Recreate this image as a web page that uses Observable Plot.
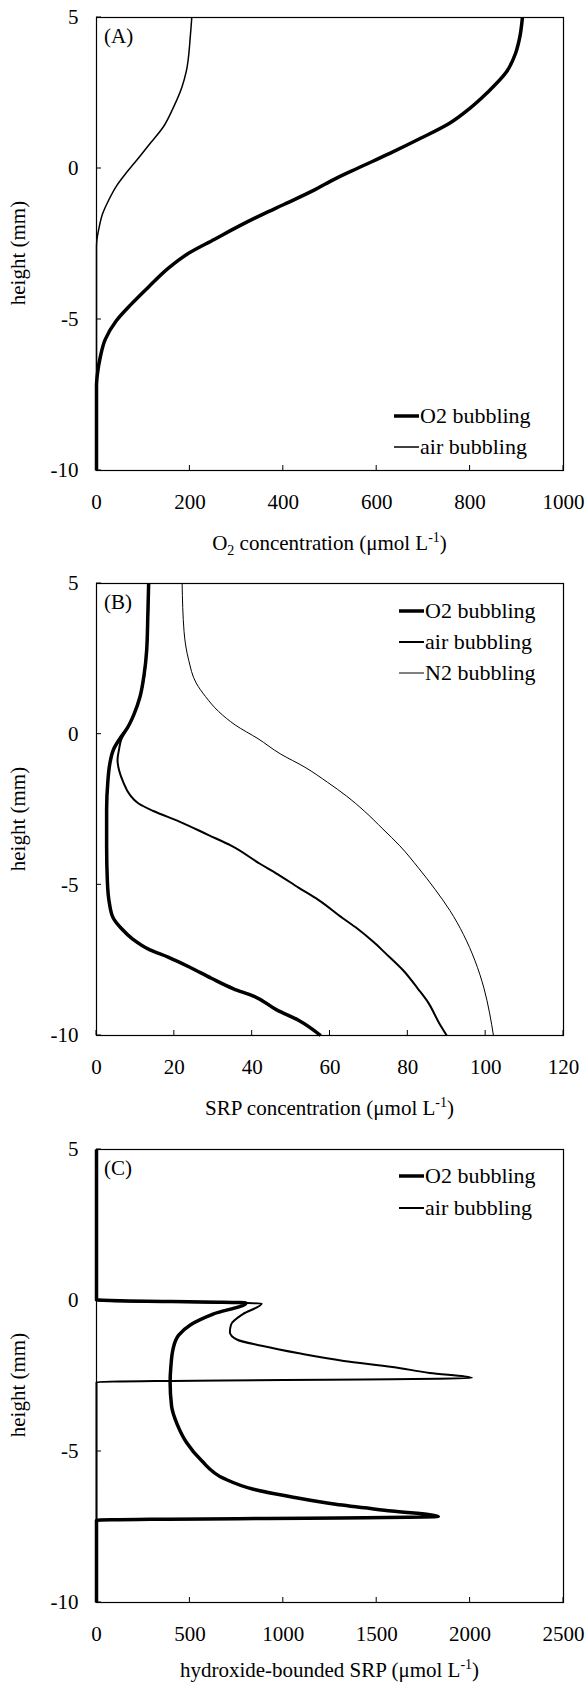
<!DOCTYPE html>
<html>
<head>
<meta charset="utf-8">
<script src="https://cdn.jsdelivr.net/npm/d3@7"></script>
<script src="https://cdn.jsdelivr.net/npm/@observablehq/plot@0.6"></script>
<style>
  body { margin: 0; background: #fff; }
  #charts svg { display: block; }
</style>
</head>
<body>
<div id="charts"></div>
<script>
// ---------- shared ----------
const yTicks = [5, 0, -5, -10];
const seriesNames = ["O2 bubbling", "air bubbling", "N2 bubbling"];

// ---------- Panel A: O2 concentration ----------
const xTicksA = [0, 200, 400, 600, 800, 1000];
const A_O2_height = [5, 4.4, 3.8, 3.2, 2.5, 2.0, 1.5, 1.0, 0.5, 0, -0.35, -0.7, -1.2, -1.5, -1.9, -2.35, -2.8, -3.3, -3.9, -4.5, -5.05, -5.65, -6.25, -6.8, -7.2, -10];
const A_O2_conc   = [912, 907, 897, 878, 836, 800, 756, 694, 628, 558, 510, 468, 400, 358, 306, 252, 198, 154, 113, 74, 42, 19, 8, 2, 0, 0];
const A_air_height = [5, 4.4, 3.2, 2.7, 2.0, 1.4, 0.85, 0.35, -0.1, -0.55, -1.05, -1.5, -2.0, -2.35, -2.6, -10];
const A_air_conc   = [204, 201, 192, 183, 164, 144, 116, 90, 66, 44, 26, 13, 5, 1, 0, 0];

// ---------- Panel B: SRP concentration ----------
const xTicksB = [0, 20, 40, 60, 80, 100, 120];
const B_O2_height = [5, 4, 2.8, 1.95, 1.25, 0.65, 0.2, -0.15, -0.5, -1.0, -1.6, -2.5, -3.7, -4.9, -5.6, -6.1, -6.45, -6.8, -7.15, -7.4, -7.75, -8.1, -8.45, -8.7, -9.15, -9.5, -10];
const B_O2_srp    = [13.4, 13.2, 12.9, 12.2, 11.2, 9.6, 7.9, 6.0, 4.4, 3.4, 2.9, 2.6, 2.6, 2.8, 3.3, 4.3, 6.4, 9.3, 13.6, 18.4, 24.2, 29.5, 35.2, 40.5, 46.3, 52.0, 57.6];
const B_air_height = [5, 2.8, 1.25, 0.65, 0.2, -0.2, -0.5, -0.85, -1.2, -1.6, -2.0, -2.3, -2.55, -2.9, -3.35, -3.7, -4.3, -4.65, -5.1, -5.5, -6.1, -6.45, -6.9, -7.25, -7.85, -8.45, -8.9, -9.6, -10];
const B_air_srp    = [13.4, 12.9, 11.2, 9.6, 7.9, 6.3, 5.8, 5.4, 5.8, 6.9, 8.5, 10.8, 14.6, 21.3, 28.8, 34.6, 42.0, 46.6, 52.0, 57.0, 63.2, 67.0, 71.2, 74.1, 78.9, 82.6, 85.2, 88.1, 90.0];
const B_N2_height = [5, 3.4, 2.45, 1.7, 1.25, 0.75, 0.3, -0.15, -0.65, -1.1, -1.6, -2.05, -2.55, -3.15, -3.7, -4.45, -5.15, -5.85, -6.65, -7.5, -8.45, -9.25, -10];
const B_N2_srp    = [22.0, 22.5, 23.7, 25.6, 28.0, 31.4, 35.7, 41.5, 47.2, 53.6, 59.4, 64.2, 68.8, 73.6, 77.9, 82.8, 87.0, 90.8, 94.3, 97.2, 99.6, 101.0, 102.0];

// ---------- Panel C: hydroxide-bounded SRP ----------
const xTicksC = [0, 500, 1000, 1500, 2000, 2500];
const C_O2_height = [5, 0.02, -0.08, -0.45, -0.8, -1.15, -1.6, -2.2, -2.7, -3.5, -4.1, -4.7, -5.3, -5.9, -6.25, -6.5, -6.75, -6.97, -7.15, -7.28, -10];
const C_O2_srp    = [0, 0, 800, 624, 504, 440, 410, 398, 394, 402, 432, 482, 562, 684, 840, 1040, 1280, 1580, 1830, 0, 0];
const C_air_height = [5, 0.0, -0.1, -0.45, -0.8, -1.05, -1.3, -1.5, -1.75, -2.0, -2.2, -2.4, -2.57, -2.7, -10];
const C_air_srp    = [0, 0, 884, 784, 720, 714, 754, 884, 1084, 1324, 1584, 1784, 2010, 0, 0];

const toRows = (hs, vs) => hs.map((h, i) => ({h, v: vs[i]}));

const W = 585, ML = 96, MR = 22, MT = 17;
const FONT = "'Liberation Serif', 'Times New Roman', serif";

function makePanel(cfg) {
  const H = cfg.height, MB = cfg.marginBottom;
  const marks = [
    ...cfg.series.map(s => Plot.line(toRows(s.h, s.v), {
      x: "v", y: "h", stroke: "#000", strokeWidth: s.w, curve: "monotone-y",
      strokeLinejoin: "round", strokeLinecap: "butt"
    })),
    Plot.frame({stroke: "#000", strokeWidth: 1.2}),
    Plot.axisX({ticks: cfg.xTicks, tickSize: 0, tickPadding: 24, label: null, fontSize: 21, tickFormat: d => String(d)}),
    Plot.axisY({ticks: yTicks, tickSize: 0, tickPadding: 18, label: null, fontSize: 21, tickFormat: d => String(d)})
  ];
  const chart = Plot.plot({
    width: W, height: H,
    marginTop: MT, marginBottom: MB, marginLeft: ML, marginRight: MR,
    style: {fontFamily: FONT, fontSize: "21px", color: "#000", background: "#fff", overflow: "visible"},
    x: {domain: cfg.xDomain},
    y: {domain: [-10, 5]},
    marks
  });
  const svg = d3.select(chart);
  const left = ML, right = W - MR, top = MT, bottom = H - MB;
  const px = v => left + (v - cfg.xDomain[0]) / (cfg.xDomain[1] - cfg.xDomain[0]) * (right - left);
  const py = v => top + (5 - v) / 15 * (bottom - top);
  const g = svg.append("g").attr("stroke", "#000").attr("stroke-width", 1);
  // inside tick marks
  cfg.xTicks.forEach(t => g.append("line").attr("x1", px(t)).attr("x2", px(t)).attr("y1", bottom).attr("y2", bottom - 5));
  yTicks.forEach(t => g.append("line").attr("x1", left).attr("x2", left + 5).attr("y1", py(t)).attr("y2", py(t)));

  const tg = svg.append("g").attr("font-family", FONT).attr("fill", "#000")
    .attr("text-anchor", "start").style("text-anchor", "start");
  // panel label
  tg.append("text").attr("x", left + 8).attr("y", top + 26).attr("font-size", 21).text(cfg.label);
  // y title
  tg.append("text").attr("transform", `translate(25,${top + 236}) rotate(-90)`)
    .attr("text-anchor", "middle").style("text-anchor", "middle").attr("font-size", 21).text("height (mm)");
  // x title with sub/superscripts
  const xt = tg.append("text").attr("x", (left + right) / 2).attr("y", bottom + cfg.titleOffset)
    .attr("text-anchor", "middle").style("text-anchor", "middle").attr("font-size", 21);
  cfg.xTitle.forEach(p => {
    const ts = xt.append("tspan").text(p.t);
    if (p.sub) ts.attr("dy", 5).attr("font-size", 14);
    else if (p.sup) ts.attr("dy", -8).attr("font-size", 14);
    if (p.after) ts.attr("dy", p.after);
  });
  // legend
  cfg.series.forEach((s, i) => {
    const y = cfg.legendY + i * cfg.legendStep;
    g.append("line").attr("x1", cfg.legendX).attr("x2", cfg.legendX + 25)
      .attr("y1", y).attr("y2", y).attr("stroke-width", s.w);
    tg.append("text").attr("x", cfg.legendX + 26).attr("y", y + 7).attr("font-size", 22).text(s.name);
  });
  return chart;
}

const root = document.getElementById("charts");

root.appendChild(makePanel({
  height: 566, marginBottom: 96, xDomain: [0, 1000], xTicks: xTicksA, label: "(A)",
  series: [
    {name: seriesNames[0], h: A_O2_height, v: A_O2_conc, w: 3.5},
    {name: seriesNames[1], h: A_air_height, v: A_air_conc, w: 1.5}
  ],
  legendX: 394, legendY: 416, legendStep: 31, titleOffset: 80,
  xTitle: [{t: "O"}, {t: "2", sub: true}, {t: " concentration (μmol L", after: -5}, {t: "-1", sup: true}, {t: ")", after: 8}]
}));

root.appendChild(makePanel({
  height: 566, marginBottom: 97, xDomain: [0, 120], xTicks: xTicksB, label: "(B)",
  series: [
    {name: seriesNames[0], h: B_O2_height, v: B_O2_srp, w: 3.5},
    {name: seriesNames[1], h: B_air_height, v: B_air_srp, w: 2},
    {name: seriesNames[2], h: B_N2_height, v: B_N2_srp, w: 1}
  ],
  legendX: 399, legendY: 45, legendStep: 31, titleOffset: 80,
  xTitle: [{t: "SRP concentration (μmol L"}, {t: "-1", sup: true}, {t: ")", after: 8}]
}));

root.appendChild(makePanel({
  height: 550, marginBottom: 80, xDomain: [0, 2500], xTicks: xTicksC, label: "(C)",
  series: [
    {name: seriesNames[0], h: C_O2_height, v: C_O2_srp, w: 3.5},
    {name: seriesNames[1], h: C_air_height, v: C_air_srp, w: 2}
  ],
  legendX: 399, legendY: 44, legendStep: 32, titleOffset: 75,
  xTitle: [{t: "hydroxide-bounded SRP (μmol L"}, {t: "-1", sup: true}, {t: ")", after: 8}]
}));
</script>
</body>
</html>
